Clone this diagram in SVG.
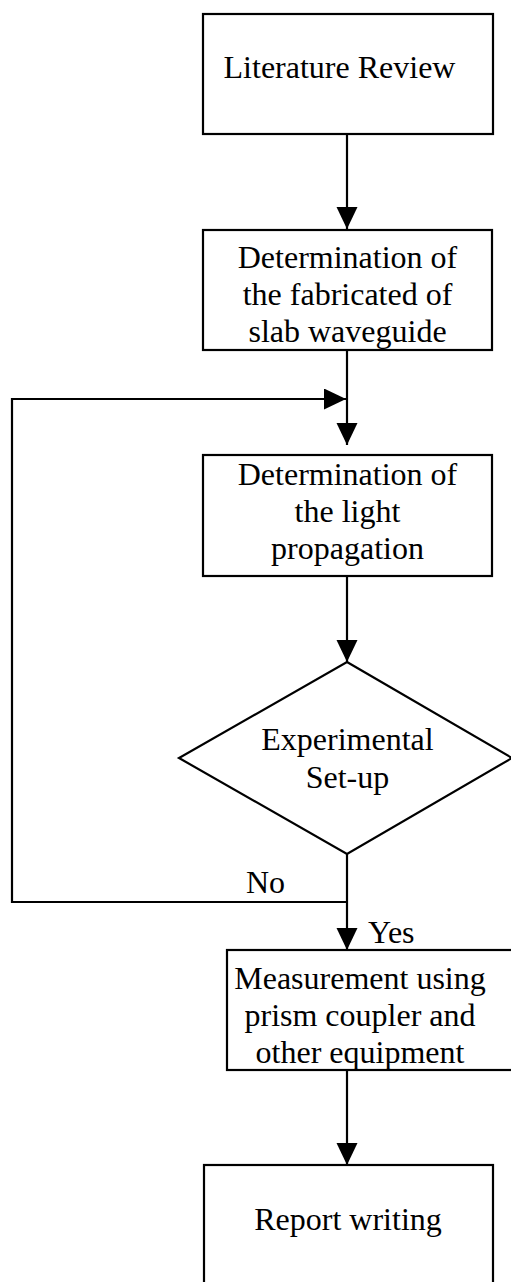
<svg xmlns="http://www.w3.org/2000/svg" width="511" height="1282" viewBox="0 0 511 1282">
  <style>
    .box { fill: #ffffff; stroke: #000000; stroke-width: 2.2; }
    .lbl { font-family: "Liberation Serif", "Times New Roman", serif; font-size: 32px; fill: #000000; text-anchor: middle; }
    .lbls { font-family: "Liberation Serif", "Times New Roman", serif; font-size: 32px; fill: #000000; text-anchor: start; }
    .conn { fill: none; stroke: #000000; stroke-width: 2.2; }
  </style>
  <defs>
    <marker id="arrow" markerUnits="userSpaceOnUse" markerWidth="22" markerHeight="22" refX="22" refY="10.5" orient="auto">
      <polygon points="0,0 22,10.5 0,21" fill="#000000"/>
    </marker>
  </defs>
  <rect width="511" height="1282" fill="#ffffff"/>

  <g id="connectors">
    <line class="conn" x1="347" y1="134" x2="347" y2="229" marker-end="url(#arrow)"/>
    <line class="conn" x1="347" y1="350" x2="347" y2="445" marker-end="url(#arrow)"/>
    <polyline class="conn" points="347,902 12,902 12,399 346,399" marker-end="url(#arrow)"/>
    <line class="conn" x1="347" y1="576" x2="347" y2="662" marker-end="url(#arrow)"/>
    <line class="conn" x1="347" y1="854" x2="347" y2="950" marker-end="url(#arrow)"/>
    <line class="conn" x1="347" y1="1070" x2="347" y2="1165" marker-end="url(#arrow)"/>
  </g>

  <g id="literature-review">
    <rect class="box" x="203" y="14" width="290" height="120"/>
    <text class="lbl" x="339.5" y="78">Literature Review</text>
  </g>

  <g id="determination-fabricated">
    <rect class="box" x="203" y="230" width="289" height="120"/>
    <text class="lbl" x="347.5" y="267.5">Determination of</text>
    <text class="lbl" x="347.5" y="304.5">the fabricated of</text>
    <text class="lbl" x="347.5" y="341.5">slab waveguide</text>
  </g>

  <g id="determination-light">
    <rect class="box" x="203" y="455" width="289" height="121"/>
    <text class="lbl" x="347.5" y="484.5">Determination of</text>
    <text class="lbl" x="347.5" y="521.5">the light</text>
    <text class="lbl" x="347.5" y="558.5">propagation</text>
  </g>

  <g id="experimental-setup">
    <polygon class="box" points="347,662 512,758 347,854 179,758"/>
    <text class="lbl" x="347.5" y="749.5">Experimental</text>
    <text class="lbl" x="347.5" y="787.5">Set-up</text>
  </g>

  <g id="edge-labels">
    <text class="lbls" x="246" y="893">No</text>
    <text class="lbls" x="368" y="943">Yes</text>
  </g>

  <g id="measurement">
    <rect class="box" x="227" y="950" width="300" height="120"/>
    <text class="lbl" x="360" y="988.5">Measurement using</text>
    <text class="lbl" x="360" y="1025.5">prism coupler and</text>
    <text class="lbl" x="360" y="1062.5">other equipment</text>
  </g>

  <g id="report-writing">
    <rect class="box" x="204" y="1165" width="289" height="140"/>
    <text class="lbl" x="348" y="1230">Report writing</text>
  </g>
</svg>
